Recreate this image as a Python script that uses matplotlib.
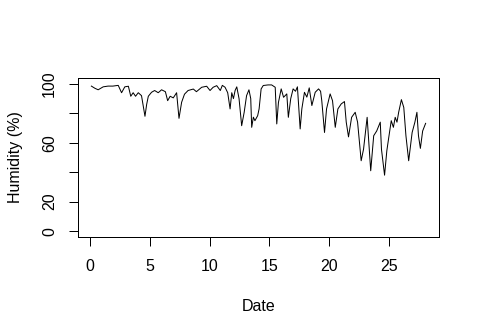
import matplotlib
matplotlib.use("Agg")
import matplotlib.pyplot as plt

# humidity readings (day, %)
days = [0.1, 0.4, 0.67, 1.09, 1.5, 1.9, 2.35, 2.63, 2.9, 3.2,
        3.4, 3.6, 3.8, 4.03, 4.3, 4.59, 4.73, 4.87, 5.14, 5.4,
        5.7, 5.98, 6.3, 6.49, 6.7, 6.96, 7.24, 7.44, 7.66, 7.9,
        8.2, 8.64, 8.9, 9.34, 9.76, 10.04, 10.3, 10.6, 10.9, 11.07,
        11.3, 11.52, 11.72, 11.86, 12.0, 12.14, 12.28, 12.47, 12.69, 12.9,
        13.1, 13.3, 13.45, 13.53, 13.67, 13.8, 14.03, 14.15, 14.32, 14.5,
        14.9, 15.2, 15.5, 15.63, 15.77, 16.0, 16.2, 16.47, 16.6, 16.8,
        17.0, 17.2, 17.36, 17.59, 17.73, 17.95, 18.15, 18.35, 18.57, 18.85,
        19.13, 19.3, 19.4, 19.63, 19.8, 20.1, 20.3, 20.53, 20.75, 21.03,
        21.3, 21.45, 21.64, 21.9, 22.2, 22.4, 22.7, 22.9, 23.2, 23.5,
        23.75, 24.0, 24.3, 24.4, 24.66, 24.85, 25.0, 25.22, 25.4, 25.55,
        25.7, 25.84, 26.07, 26.27, 26.45, 26.68, 26.97, 27.2, 27.37, 27.5,
        27.66, 27.85, 28.1]
humidity = [98.5, 97, 96, 98, 98.5, 98.5, 99, 94, 98, 98.4,
            91.6, 94, 91.6, 94, 92, 78, 86, 91.6, 94.3, 95.5,
            94, 96, 94.7, 88.6, 91.6, 90.5, 94, 76.6, 87.5, 93,
            95.5, 96.5, 94.7, 97.7, 98.4, 95.5, 97.7, 98.8, 95.5, 99,
            97.7, 94, 83, 94, 90, 95.5, 98, 90, 71.6, 80.7,
            92, 96, 90, 70.5, 77.4, 75, 78.4, 83, 96.6, 98.9,
            99.3, 99.3, 97.7, 72.8, 87.4, 96.6, 90.9, 93.2, 77.3, 90,
            96.6, 95, 98, 69.4, 83, 94.3, 91, 97.3, 85.3, 94.3,
            96.6, 95, 88.6, 67, 83, 93.2, 88.6, 70.5, 83, 86.4,
            88, 74, 64, 77.3, 80.7, 74, 47.8, 55.7, 77.3, 41,
            64.8, 68, 74, 55.7, 38, 54.6, 63, 75, 70.5, 77.3,
            74, 80.7, 89.3, 84, 64.8, 47.8, 67, 74, 80.7, 64.8,
            56.2, 68, 73.2]

xticks = [0, 5, 10, 15, 20, 25]
yticks = [0, 20, 40, 60, 80, 100]
ylabels = ["0", "20", "", "60", "", "100"]

plt.rcParams['font.family'] = ['Liberation Sans', 'DejaVu Sans']

fig = plt.figure(figsize=(480 / 72, 335 / 72), dpi=72)
ax = fig.add_axes([78 / 480, 98 / 335, 361 / 480, 159 / 335])

ax.plot(days, humidity, color="black", linewidth=1)

pad = 0.04 * (max(days) - min(days))
ax.set_xlim(min(days) - pad, max(days) + pad)
ax.set_ylim(-4, 104)

ax.set_xticks(xticks)
ax.set_xticklabels([str(t) for t in xticks])
ax.set_yticks(yticks)
ax.set_yticklabels(ylabels, rotation=90, va="center")
ax.tick_params(axis="both", length=9, width=1, labelsize=16, color="black")
ax.tick_params(axis="x", pad=13)
ax.tick_params(axis="y", pad=12)
for s in ax.spines.values():
    s.set_linewidth(1)

ax.set_xlabel("Date", fontsize=16, labelpad=25)
ax.set_ylabel("Humidity (%)", fontsize=16, labelpad=19)

fig.savefig("out.png", dpi=72)
